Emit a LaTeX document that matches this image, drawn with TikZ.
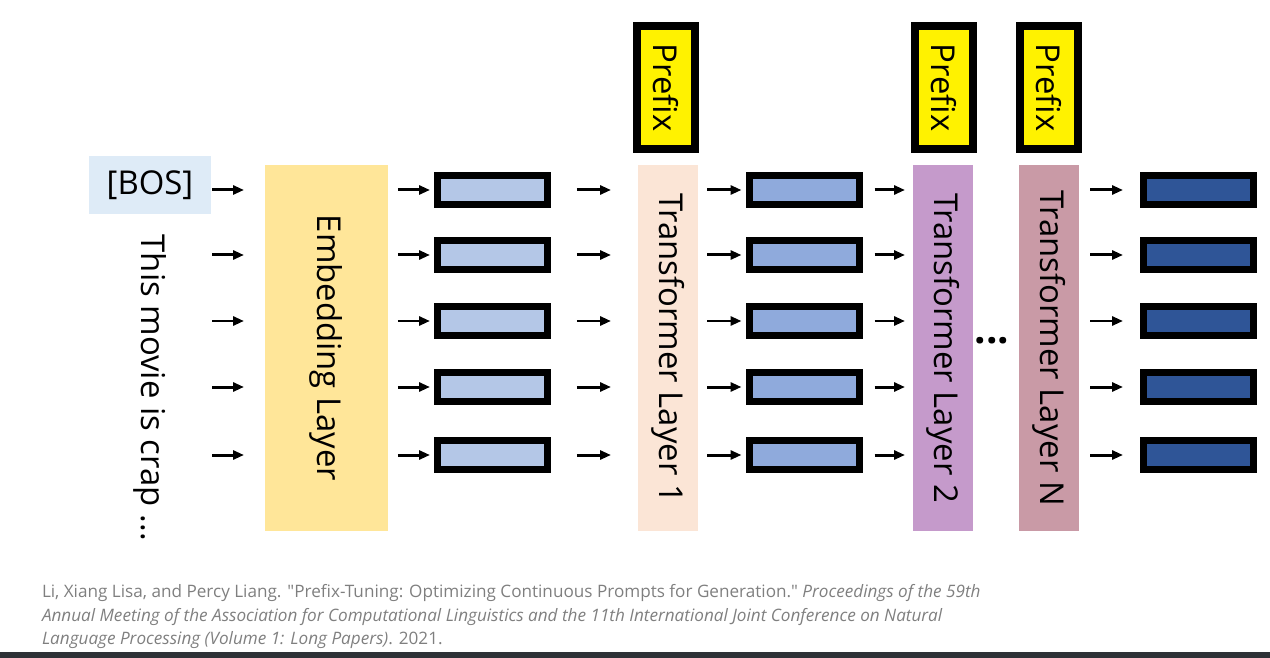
\documentclass[tikz,border=0pt]{standalone}
\usepackage{fontspec}
\setmainfont{Open Sans}
\newfontfamily\citefont{Open Sans}
\usepackage{tikz}
\usetikzlibrary{arrows.meta, positioning, calc}
\usepackage{xcolor}
\definecolor{bosblue}{HTML}{DEEBF7}
\definecolor{embyellow}{HTML}{FFE699}
\definecolor{tonepeach}{HTML}{FBE5D6}
\definecolor{ttwopurple}{HTML}{C59ACB}
\definecolor{tnmauve}{HTML}{C99AA6}
\definecolor{vecone}{HTML}{B4C7E7}
\definecolor{vectwo}{HTML}{8FAADC}
\definecolor{vecthree}{HTML}{2F5597}
\definecolor{citegray}{HTML}{7F7F7F}
\definecolor{bargray}{HTML}{2E3236}

\begin{document}
\begin{tikzpicture}[
    x=0.02cm, y=-0.02cm,
    every node/.style={font=\fontsize{18.7}{22}\selectfont, inner sep=0pt, outer sep=0pt},
    layer/.style={rotate=-90, minimum width=7.32cm, minimum height=1.2cm, fill=#1},
    vec/.style={draw=black, line width=0.14cm, minimum width=2.2cm, minimum height=0.58cm, fill=#1},
    prefixbox/.style={rotate=-90, draw=black, line width=0.16cm, fill=yellow, minimum width=2.46cm, minimum height=1.16cm},
    arr/.style={-{Triangle[length=0.22cm, width=0.18cm]}, line width=0.06cm},
]
    \useasboundingbox (0,0) rectangle (1270,658);
    \fill[bargray] (0,652) rectangle (1270,658);

    % Input tokens
    \node[fill=bosblue, minimum width=2.44cm, minimum height=1.16cm] (bos) at (150,185) {[BOS]};
    \node[rotate=-90] (words) at (150,388) {This movie is crap ...};

    % Layers from left to right (rotated: north is the right side, south the left side)
    \node[layer=embyellow, minimum height=2.46cm] (emb) at (326.5,348) {Embedding Layer};
    \node[layer=tonepeach] (t1) at (668,348) {Transformer Layer 1};
    \node[layer=ttwopurple] (t2) at (943,348) {Transformer Layer 2};
    \node[font=\fontsize{23}{26}\selectfont\bfseries] (dots) at (992,341) {...};
    \node[layer=tnmauve] (tN) at (1049,348) {Transformer Layer N};

    % Prefixes on top
    \node[prefixbox] (p1) at (666,87.5) {Prefix};
    \node[prefixbox] (p2) at (943.5,87.5) {Prefix};
    \node[prefixbox] (pN) at (1049,87.5) {Prefix};

    % Hidden vectors and arrows, one row per token
    \foreach \i/\y in {1/190, 2/255, 3/321, 4/387, 5/455} {
        \coordinate (w\i) at (212,\y);
        \node[vec=vecone] (va\i) at (492.5,\y) {};
        \node[vec=vectwo] (vb\i) at (804,\y) {};
        \node[vec=vecthree] (vc\i) at (1198.5,\y) {};
        \draw[arr, shorten >=0.15cm, shorten <=0.2cm] (emb.north |- va\i) -- (va\i);
        \draw[arr, shorten <=0.59cm, shorten >=0.54cm] (va\i) -- (va\i -| t1.south);
        \draw[arr, shorten <=0.18cm, shorten >=0.15cm] (t1.north |- vb\i) -- (vb\i);
        \draw[arr, shorten <=0.31cm, shorten >=0.16cm] (vb\i) -- (vb\i -| t2.south);
        \draw[arr, shorten <=0.22cm, shorten >=0.41cm] (tN.north |- vc\i) -- (vc\i);
    }
    \foreach \i in {1,...,5}
        \draw[arr, shorten >=0.42cm] (w\i) -- (w\i -| emb.south);

    % Reference
    \node[anchor=north west, font=\citefont\fontsize{9.75}{13.6}\selectfont, text=citegray, align=left] (cite) at (42,584)
        {Li, Xiang Lisa, and Percy Liang. "Prefix-Tuning: Optimizing Continuous Prompts for Generation." \textit{Proceedings of the 59th}\\
         \textit{Annual Meeting of the Association for Computational Linguistics and the 11th International Joint Conference on Natural}\\
         \textit{Language Processing (Volume 1: Long Papers)}. 2021.};
\end{tikzpicture}
\end{document}
